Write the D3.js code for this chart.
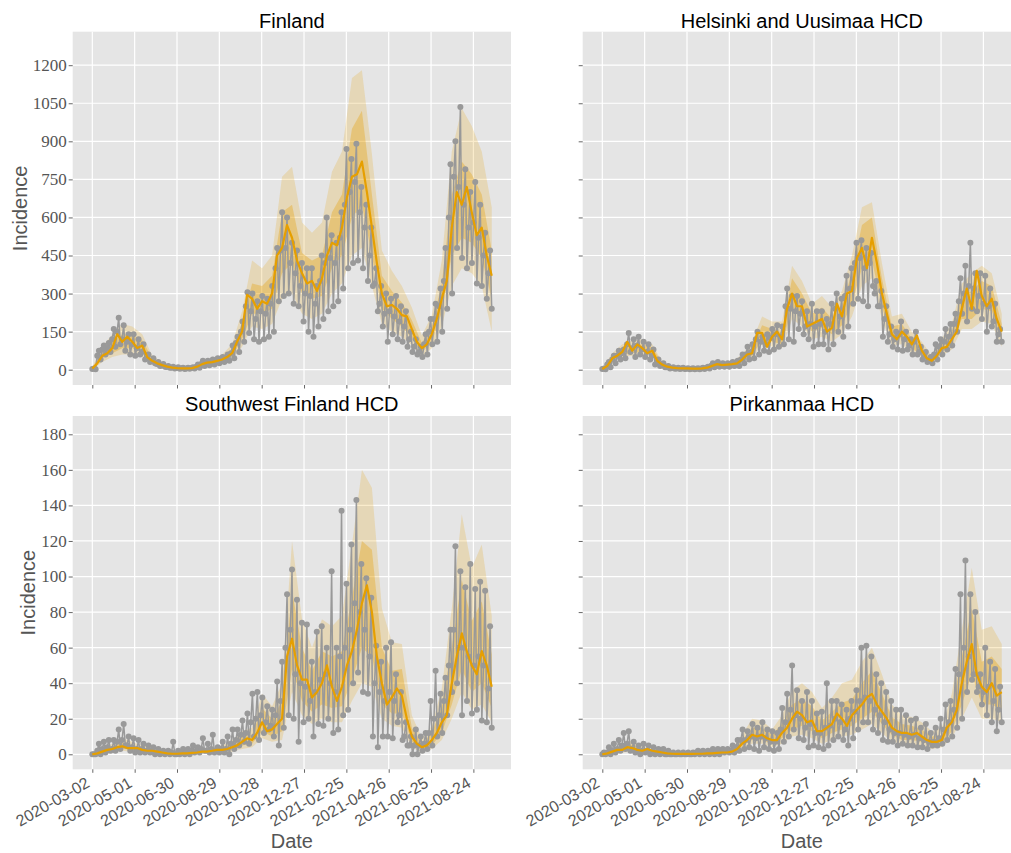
<!DOCTYPE html>
<html>
<head>
<meta charset="utf-8">
<script src="https://cdn.jsdelivr.net/npm/d3@7"></script>
<style>
  body { margin: 0; background: #fff; }
</style>
</head>
<body>
<script>
// series run from 2020-03-02 to 2021-09-19 (day 0 .. 566)
var startDate = '2020-03-02',
    lastDay = 566;

var xTickLabels = ['2020-03-02', '2020-05-01', '2020-06-30', '2020-08-29', '2020-10-28',
                   '2020-12-27', '2021-02-25', '2021-04-26', '2021-06-25', '2021-08-24'];
var yTicksTop = [0, 150, 300, 450, 600, 750, 900, 1050, 1200];
var yTicksBottom = [0, 20, 40, 60, 80, 100, 120, 140, 160, 180];

// observed daily incidence, read as three points (mid, high, low) for every week
var finObs = [3,5,2, 55,75,40, 80,95,60, 85,105,70, 120,160,90, 150,205,100, 120,175,75, 110,140,60,
  100,140,55, 85,120,60, 70,100,40, 45,60,30, 35,45,25, 22,30,15, 17,22,12, 11,15,8, 8,12,5, 7,10,4,
  6,8,3, 5,8,4, 7,10,5, 12,20,8, 22,35,15, 27,35,18, 30,40,20, 33,45,25, 38,50,30, 48,60,35, 65,95,45,
  105,130,70, 150,190,110, 250,305,145, 230,300,120, 200,270,110, 230,290,120, 220,280,130, 260,330,150,
  400,480,270, 470,620,290, 480,600,300, 420,500,260, 380,470,250, 330,420,190, 300,400,150, 290,400,130,
  260,330,170, 350,450,200, 420,600,230, 440,530,250, 420,500,270, 520,620,320, 650,870,400, 700,830,420,
  740,890,430, 620,720,400, 560,650,350, 450,560,330, 340,400,230, 260,330,170, 220,300,110, 230,280,140,
  210,290,120, 190,250,110, 170,230,90, 120,150,70, 90,120,60, 70,90,50, 100,140,60, 150,200,100,
  200,260,110, 250,320,150, 350,480,240, 600,810,300, 760,900,480, 720,1035,440, 650,790,400, 560,700,420,
  580,740,340, 520,650,330, 450,540,280, 380,470,240];
var finMed = [5,25,55,65,85,140,110,130,110,85, 95,50,35,25,18,12,8,6,5,5, 6,12,22,28,30,35,40,50,65,110,
  150,295,280,240,270,260,300,450,480,570, 520,430,380,340,350,310,360,450,500,490,
  560,680,760,770,820,700,560,420,300,250, 255,240,215,210,160,110,85,100,140,200,
  280,350,560,700,650,720,620,530,560,450, 370];
var finOutLo = [0,30,50,60,60,50,20,10,4,2, 3,12,18,25,40,90,170,160,180,280, 300,220,200,220,300,340,450,480,330,180,
  150,130,95,50,85,170,330,400,380,330, 150];
var finOutHi = [12,90,140,180,170,140,55,30,14,10, 11,36,45,60,100,230,430,400,450,760, 800,580,540,580,780,860,1150,1180,850,470,
  390,330,245,135,215,430,860,1030,960,860, 640];
var finInLo = [2,45,65,85,85,75,28,14,6,4, 4,17,24,33,52,120,220,220,240,380, 420,300,280,290,400,450,600,650,450,240,
  200,170,125,68,110,225,450,520,500,440, 280];
var finInHi = [8,70,110,140,135,115,45,24,11,7, 8,28,37,50,80,185,340,330,370,620, 650,460,430,450,620,690,950,1020,690,370,
  310,265,195,105,170,340,690,820,770,690, 470];

var helObs = [3,5,2, 20,30,10, 40,55,25, 55,75,40, 65,80,45, 100,145,70, 85,120,50, 95,130,60, 80,110,50,
  70,100,40, 55,80,20, 28,40,15, 18,25,10, 10,15,5, 7,10,4, 5,8,3, 5,8,3, 4,6,2, 4,6,2, 4,6,2, 5,8,3,
  8,12,5, 16,25,10, 20,30,12, 18,25,12, 19,25,12, 22,30,15, 25,35,15, 40,60,25, 60,90,40, 70,100,45,
  120,150,60, 110,130,75, 100,140,70, 125,160,80, 140,175,90, 130,170,100, 250,320,120, 240,290,110,
  230,290,160, 220,270,140, 170,230,120, 180,260,90, 170,230,100, 180,230,100, 150,200,80, 180,260,100,
  240,300,150, 210,280,130, 290,370,170, 320,400,260, 420,500,280, 440,510,270, 400,480,250, 420,460,330,
  300,350,250, 250,310,130, 200,250,110, 140,170,90, 120,150,80, 140,190,75, 120,150,80, 95,120,60,
  110,150,60, 70,90,40, 50,70,30, 38,50,25, 60,100,40, 90,120,60, 110,160,80, 130,180,95, 180,220,150,
  270,360,220, 300,410,190, 330,500,240, 320,380,230, 290,380,200, 260,370,150, 250,320,170, 190,260,110,
  140,160,110];
var helMed = [3,15,45,55,70,110,75,100,85,65, 75,35,20,12,8,6,5,5,4,4, 5,8,15,22,18,20,22,25,40,60,
  65,145,145,90,130,150,120,240,300,250, 250,170,180,190,200,150,165,260,210,300,
  310,440,480,400,520,420,300,220,140,120, 150,130,100,135,75,45,35,55,85,90,
  120,150,240,320,240,390,290,250,280,200, 150];
var helOutLo = [1,30,50,55,60,50,13,5,3,2, 3,9,12,14,27,45,100,90,85,200, 170,120,130,110,140,210,330,360,200,95,
  100,65,50,24,55,80,160,160,190,180, 90];
var helOutHi = [8,65,100,115,120,100,30,12,8,7, 8,24,28,32,60,110,210,190,190,410, 350,260,290,245,310,450,640,660,420,210,
  220,150,110,55,125,180,340,380,410,380, 220];
var helInLo = [2,38,60,65,72,62,16,6,4,3, 4,12,15,18,33,55,120,110,100,250, 210,150,165,140,175,260,400,430,250,115,
  125,82,62,29,70,100,200,200,240,230, 120];
var helInHi = [5,55,85,95,100,88,25,10,6,5, 7,19,23,27,50,85,175,160,150,360, 300,220,245,200,260,380,570,600,360,170,
  180,122,90,43,105,150,290,310,350,330, 180];

var swObs = [0,0,0, 2,6,0, 3,7,1, 4,8,2, 3,8,2, 7,14,3, 8,17,5, 5,10,2, 4,9,1, 3,8,1, 3,6,1, 2,5,1,
  2,4,0, 1,3,0, 1,2,0, 1,2,0, 1,7,0, 0,2,0, 1,3,0, 1,3,0, 2,5,1, 2,4,1, 3,9,2, 2,6,1, 3,11,1, 2,4,1,
  3,7,1, 3,10,0, 6,14,3, 8,14,5, 11,19,7, 12,23,6, 18,34,10, 20,35,8, 22,32,12, 18,27,14, 16,25,10,
  22,41,5, 30,52,15, 60,90,22, 70,104,20, 45,87,7, 40,74,18, 38,73,20, 30,52,10, 35,69,17, 42,72,16,
  45,60,20, 40,103,12, 35,60,14, 55,137,22, 60,96,25, 70,118,40, 85,143,46, 80,107,35, 70,99,34,
  55,88,10, 40,61,4, 35,52,10, 30,60,10, 35,63,9, 30,45,18, 22,35,8, 10,18,5, 5,10,0, 5,14,0, 5,10,2,
  6,12,3, 12,30,5, 20,47,10, 22,34,12, 30,43,22, 50,70,35, 70,117,40, 60,103,22, 60,94,30, 55,107,23,
  50,93,25, 55,97,19, 50,92,18, 37,72,15];
var swMed = [0,0.5,1.5,2.5,3,4,4.5,3.5,3.5,3.5, 2.5,2,2,1.5,1,0.5,0.3,0.3,0.5,0.5, 0.8,1,1.5,1.5,2,2.5,2.5,3,4,5,
  7,9,8,12,18,13,14,17,20,55, 65,50,42,42,32,35,40,50,38,30, 38,50,58,70,85,95,80,55,40,28,
  32,37,33,20,10,6,4,5,8,12, 18,22,40,55,68,58,50,45,58,50, 38];
var swOutLo = [0,0,1,2,1.5,1,0.5,0,0,0, 0,0.5,0.5,1,1.5,3,4,9,7,8, 35,22,17,20,18,18,30,40,38,20,
  16,15,4,1,3,8,20,35,25,28, 18];
var swOutHi = [1,4,6,9,7,5,4.5,2.5,1.5,1.5, 2,3,4,5,8,13,15,34,27,40, 120,76,60,76,72,78,118,160,150,82,
  63,62,22,9,16,37,82,135,105,118, 78];
var swInLo = [0,1,2,3,2.5,1.8,1.2,0.5,0.1,0.2, 0.4,1,1.2,1.5,2.5,5,6,13,10,13, 48,30,24,28,26,27,42,60,55,28,
  23,23,7,2.5,5,12,28,48,35,40, 26];
var swInHi = [0.5,2.5,4.5,6.5,5,3.5,3,1.5,0.8,1, 1.3,2.2,3,3.8,6,10,11,26,20,30, 92,60,47,58,55,58,88,120,115,60,
  47,48,15,6,12,27,60,98,75,86, 56];

var pirObs = [0,1,0, 1,4,0, 2,6,1, 3,8,2, 5,12,3, 6,13,2, 3,7,1, 2,5,0, 2,6,1, 2,5,0, 1,4,0, 1,3,0,
  1,3,0, 0,2,0, 0,1,0, 0,1,0, 0,1,0, 0,1,0, 0,1,0, 1,2,0, 1,2,0, 1,2,0, 1,3,0, 1,3,0, 2,3,1, 2,3,1,
  2,5,1, 4,8,2, 8,14,3, 8,13,4, 10,17,3, 9,15,2, 10,18,4, 9,14,3, 7,13,2, 7,12,3, 14,26,7, 18,34,10,
  25,50,14, 22,36,9, 20,30,8, 15,35,4, 17,30,5, 12,23,4, 12,24,3, 15,40,5, 16,30,8, 20,30,10, 18,28,8,
  14,25,5, 20,30,9, 24,36,14, 30,60,18, 32,61,18, 30,55,14, 25,45,12, 22,40,8, 18,35,7, 14,30,7,
  12,25,5, 12,25,6, 11,22,5, 10,19,5, 11,20,4, 9,15,4, 8,17,3, 7,12,5, 7,15,5, 9,20,6, 14,28,8,
  18,30,10, 25,48,15, 45,90,20, 60,109,35, 55,90,42, 45,80,35, 38,45,28, 35,60,22, 38,52,18, 30,48,13,
  25,38,18];
var pirMed = [0,0.5,1.5,2.5,2.5,4,3.5,2.5,2,3, 2,1.5,1,0.5,0.3,0.2,0.2,0.2,0.2,0.3, 0.3,0.5,0.5,0.8,1,1,1.5,3,6,8,
  11,10,11,9,8,8,12,15,20,24, 22,18,19,13,13,15,17,23,20,16, 22,25,28,32,34,28,24,20,15,13,
  12,12,11,12,10,8,7,7,8,15, 18,25,40,52,62,45,38,35,40,33, 35];
var pirOutLo = [0,0.3,1,1.5,0.8,0.5,0.2,0,0,0, 0,0,0.3,0.5,3,6,6,4,6,10, 11,9,6,8,10,11,14,17,12,7,
  6,5,5,3,4,9,20,32,20,20, 18];
var pirOutHi = [1,3,5,8,4,4,2,1,0.8,0.8, 1,1.5,2,3,11,20,19,14,22,36, 40,35,26,32,40,42,52,60,45,28,
  22,21,18,13,15,34,70,105,70,72, 62];
var pirInLo = [0,1,1.8,2.5,1.4,1.3,0.6,0.1,0.1,0.1, 0.1,0.2,0.6,1,4.5,8,8,6,9,14, 16,13,9,12,14,16,20,24,17,11,
  8,8,7,5,6,13,28,45,28,28, 25];
var pirInHi = [0.5,2.2,3.8,5.5,3,3,1.5,0.6,0.5,0.5, 0.6,1,1.5,2.2,8,15,15,11,17,28, 31,27,19,24,29,31,40,47,34,21,
  17,16,14,10,11,25,55,82,52,55, 48];

var regions = [
  {title: 'Finland', row: 0, col: 0, obs: finObs, med: finMed, outLo: finOutLo, outHi: finOutHi, inLo: finInLo, inHi: finInHi},
  {title: 'Helsinki and Uusimaa HCD', row: 0, col: 1, obs: helObs, med: helMed, outLo: helOutLo, outHi: helOutHi, inLo: helInLo, inHi: helInHi},
  {title: 'Southwest Finland HCD', row: 1, col: 0, obs: swObs, med: swMed, outLo: swOutLo, outHi: swOutHi, inLo: swInLo, inHi: swInHi},
  {title: 'Pirkanmaa HCD', row: 1, col: 1, obs: pirObs, med: pirMed, outLo: pirOutLo, outHi: pirOutHi, inLo: pirInLo, inHi: pirInHi}
];

// layout
var width = 1011, height = 853;
var pw = 438.3, ph = 353.3;
var lefts = [72.7, 582.7], tops = [31.7, 416];
var titleY = [28.3, 410.7];
var ylabelX = [26.7, 35];
var yDomains = [[-60.3, 1332], [-8.44, 190.3]];

var parse = d3.utcParse('%Y-%m-%d'),
    fmt = d3.utcFormat('%Y-%m-%d');
var t0 = parse(startDate).getTime(), dayMs = 864e5;
function toDate(d) { return new Date(t0 + d * dayMs); }

// evenly spaced day positions for a series of n values over the whole period
function dayGrid(n) {
  return d3.range(n).map(function(i) { return i * lastDay / (n - 1); });
}

var svg = d3.select('body')
    .append('svg')
    .attr('width', width)
    .attr('height', height)
    .style('font-family', '"Liberation Sans", Arial, sans-serif');

var x = d3.scaleUtc()
    .domain([toDate(-27.8), toDate(593.3)])
    .range([0, pw]);
var xTicks = xTickLabels.map(parse);

regions.forEach(function(r, idx) {
  var y = d3.scaleLinear().domain(yDomains[r.row]).range([ph, 0]);
  var yTicks = r.row === 0 ? yTicksTop : yTicksBottom;

  var g = svg.append('g')
      .attr('transform', 'translate(' + lefts[r.col] + ',' + tops[r.row] + ')');

  g.append('clipPath').attr('id', 'clip' + idx)
    .append('rect').attr('width', pw).attr('height', ph);

  g.append('rect')
      .attr('width', pw)
      .attr('height', ph)
      .attr('fill', '#e5e5e5');

  // white grid
  g.selectAll('.gx').data(xTicks).enter().append('line')
      .attr('x1', function(d) { return x(d); })
      .attr('x2', function(d) { return x(d); })
      .attr('y1', 0).attr('y2', ph)
      .attr('stroke', '#fff').attr('stroke-width', 1.2);
  g.selectAll('.gy').data(yTicks).enter().append('line')
      .attr('y1', function(d) { return y(d); })
      .attr('y2', function(d) { return y(d); })
      .attr('x1', 0).attr('x2', pw)
      .attr('stroke', '#fff').attr('stroke-width', 1.2);

  var plot = g.append('g').attr('clip-path', 'url(#clip' + idx + ')');

  // credible bands
  var bandDays = dayGrid(r.outLo.length);
  function band(lo, hi) {
    return bandDays.map(function(d, i) { return {date: toDate(d), lo: lo[i], hi: hi[i]}; });
  }
  var area = d3.area()
      .x(function(d) { return x(d.date); })
      .y0(function(d) { return y(d.lo); })
      .y1(function(d) { return y(d.hi); });
  plot.append('path')
      .attr('d', area(band(r.outLo, r.outHi)))
      .attr('fill', '#e69f00').attr('fill-opacity', 0.2);
  plot.append('path')
      .attr('d', area(band(r.inLo, r.inHi)))
      .attr('fill', '#e69f00').attr('fill-opacity', 0.33);

  // observed data
  var obs = dayGrid(r.obs.length).map(function(d, i) { return {date: toDate(d), v: r.obs[i]}; });
  var line = d3.line()
      .x(function(d) { return x(d.date); })
      .y(function(d) { return y(d.v); });
  plot.append('path')
      .attr('d', line(obs))
      .attr('fill', 'none')
      .attr('stroke', '#999')
      .attr('stroke-width', 1.5);
  plot.append('g').selectAll('circle').data(obs).enter().append('circle')
      .attr('cx', function(d) { return x(d.date); })
      .attr('cy', function(d) { return y(d.v); })
      .attr('r', 3)
      .attr('fill', '#999');

  // median
  var med = dayGrid(r.med.length).map(function(d, i) { return {date: toDate(d), v: r.med[i]}; });
  plot.append('path')
      .attr('d', line(med))
      .attr('fill', 'none')
      .attr('stroke', '#e69f00')
      .attr('stroke-width', 2.2)
      .attr('stroke-linejoin', 'round');

  // axes
  var xAxis = g.append('g')
      .attr('transform', 'translate(0,' + ph + ')')
      .call(d3.axisBottom(x).tickValues(xTicks).tickSize(3.5)
        .tickFormat(r.row === 1 ? fmt : function() { return ''; }));
  var yAxis = g.append('g')
      .call(d3.axisLeft(y).tickValues(yTicks).tickSize(4).tickPadding(2)
        .tickFormat(r.col === 0 ? d3.format('d') : function() { return ''; }));
  [xAxis, yAxis].forEach(function(a) {
    a.select('.domain').remove();
    a.selectAll('.tick line').attr('stroke', '#555').attr('stroke-width', 0.9);
  });
  yAxis.selectAll('text')
      .style('font-family', '"Liberation Serif", "Times New Roman", serif')
      .style('font-size', '17px')
      .attr('fill', '#555');
  xAxis.selectAll('text')
      .attr('x', 0).attr('y', 0).attr('dy', 0)
      .attr('text-anchor', 'end')
      .attr('transform', 'translate(-2,16.7) rotate(-30)')
      .style('font-family', '"Liberation Sans", Arial, sans-serif')
      .style('font-size', '16px')
      .attr('fill', '#555');

  // titles and labels
  g.append('text')
      .attr('x', pw / 2)
      .attr('y', titleY[r.row] - tops[r.row])
      .attr('text-anchor', 'middle')
      .style('font-size', '20px')
      .attr('fill', '#000')
      .text(r.title);

  if (r.col === 0) {
    g.append('text')
        .attr('transform', 'translate(' + (ylabelX[r.row] - lefts[0]) + ',' + (ph / 2) + ') rotate(-90)')
        .attr('text-anchor', 'middle')
        .style('font-size', '20px')
        .attr('fill', '#555')
        .text('Incidence');
  }
  if (r.row === 1) {
    g.append('text')
        .attr('x', pw / 2)
        .attr('y', 848 - tops[1])
        .attr('text-anchor', 'middle')
        .style('font-size', '20px')
        .attr('fill', '#555')
        .text('Date');
  }
});
</script>
</body>
</html>
